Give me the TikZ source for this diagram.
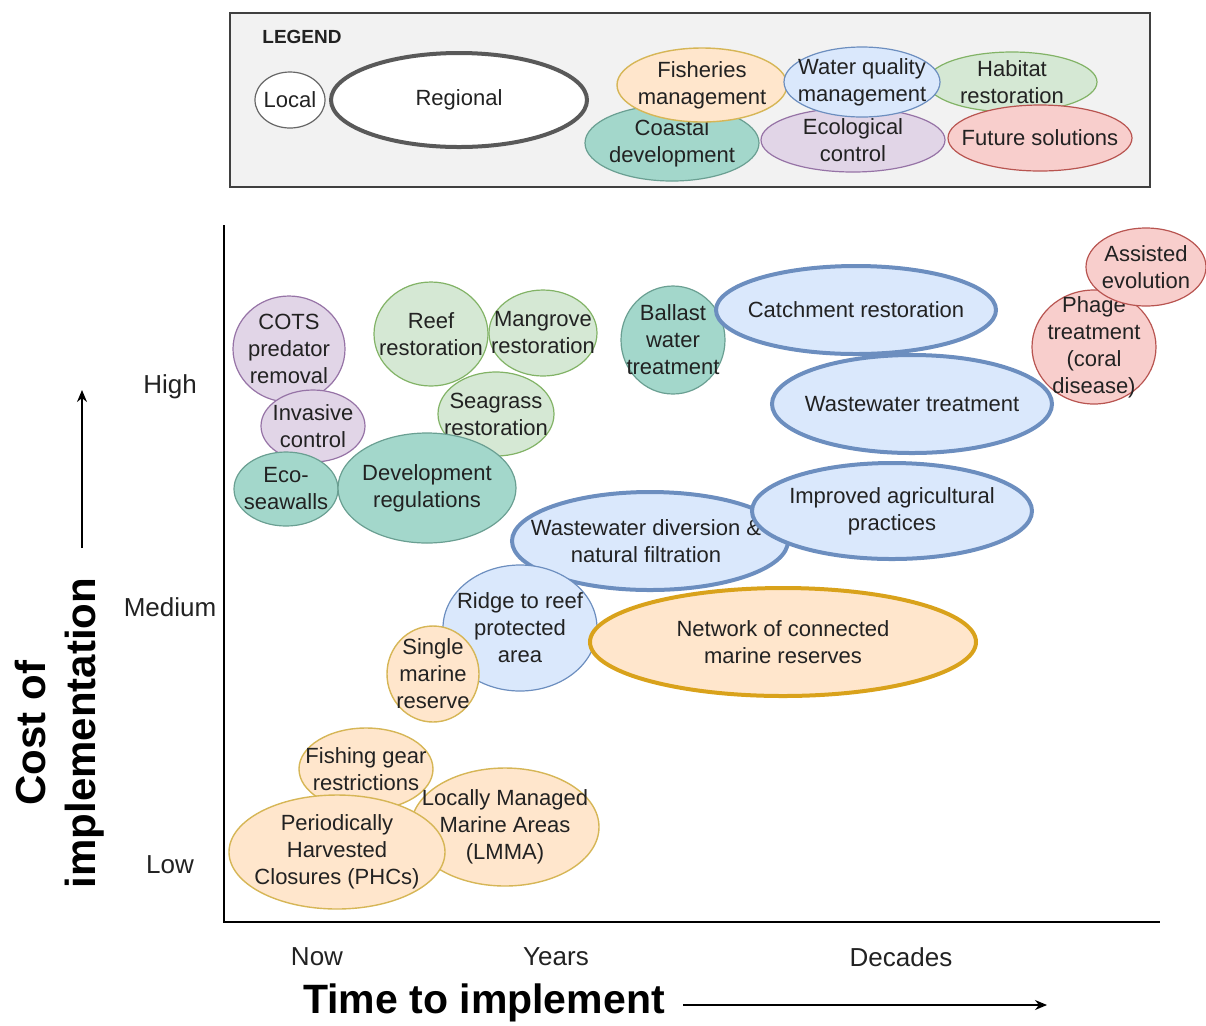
\documentclass[tikz,border=0pt]{standalone}
\usepackage{fontspec}
\setmainfont{Liberation Sans}
\usepackage{xcolor}
\usepackage{tikz}
\usetikzlibrary{arrows.meta}
\definecolor{orgf}{HTML}{FFE6CC}
\definecolor{orgd}{HTML}{D6B656}
\definecolor{orgk}{HTML}{D9A21B}
\definecolor{bluf}{HTML}{DAE8FC}
\definecolor{blud}{HTML}{6C8EBF}
\definecolor{grnf}{HTML}{D5E8D4}
\definecolor{grnd}{HTML}{82B366}
\definecolor{prpf}{HTML}{E1D5E7}
\definecolor{prpd}{HTML}{9673A6}
\definecolor{pnkf}{HTML}{F8CECC}
\definecolor{pnkd}{HTML}{B85450}
\definecolor{tealf}{HTML}{A3D7CB}
\definecolor{teald}{HTML}{6A9F92}
\definecolor{txt}{HTML}{222222}
\newcommand\bub[7]{%
  \draw[#1] (#3,#4) ellipse [x radius=#5, y radius=#6];
  \node[lbl] (#2) at (#3,#4) {#7};}

\begin{document}
\begin{tikzpicture}[x=0.5pt, y=-0.5pt, >={Stealth[length=6pt,width=5pt]},
    lbl/.style={align=center, text=txt, inner sep=0pt,
      font=\fontsize{11}{13.5}\selectfont},
    tick/.style={text=txt, font=\fontsize{13}{15}\selectfont},
    org/.style={fill=orgf, draw=orgd, line width=0.7pt},
    orgT/.style={fill=orgf, draw=orgk, line width=2pt},
    blue/.style={fill=bluf, draw=blud, line width=0.6pt},
    blueT/.style={fill=bluf, draw=blud, line width=2pt},
    green/.style={fill=grnf, draw=grnd, line width=0.6pt},
    purp/.style={fill=prpf, draw=prpd, line width=0.6pt},
    pink/.style={fill=pnkf, draw=pnkd, line width=0.6pt},
    teal/.style={fill=tealf, draw=teald, line width=0.6pt},
    loc/.style={fill=white, draw=black!60, line width=0.6pt},
    reg/.style={fill=white, draw=black!65, line width=2pt}]
    \useasboundingbox (0,0) rectangle (1206,1025);

    % legend
    \draw[fill=black!5, draw=black!75, line width=0.7pt] (230,13) rectangle (1150,187);
    \node[text=txt, font=\bfseries\fontsize{9.5}{11}\selectfont] (Legend) at (302,37) {LEGEND};
    \bub{loc}{Local}{290}{100}{35}{28}{Local}
    \bub{reg}{Regional}{459}{100}{128}{47}{Regional}
    \bub{teal}{LegCoast}{672}{143}{87}{38}{Coastal\\development}
    \bub{purp}{LegEco}{853}{140}{92}{32}{Ecological\\control}
    \bub{green}{LegHab}{1012}{82}{85}{30}{Habitat\\restoration}
    \bub{pink}{LegFut}{1040}{138}{92}{33}{Future solutions}
    \bub{org}{LegFish}{702}{85}{85}{37}{Fisheries\\management}
    \bub{blue}{LegWater}{862}{82}{78}{35}{Water quality\\management}

    % axes
    \coordinate (Top) at (224,225);
    \coordinate (Orig) at (224,922);
    \coordinate (Right) at (1160,922);
    \draw[line width=0.8pt] (Top) -- (Orig) -- (Right);

    \node[tick] (High) at (170,387) {High};
    \node[tick] (Medium) at (170,607) {Medium};
    \node[tick] (Low) at (170,865) {Low};
    \node[tick] (Now) at (317,957) {Now};
    \node[tick] (Years) at (556,957) {Years};
    \node[tick] (Decades) at (901,957) {Decades};

    \coordinate (Ybot) at (82,548);
    \coordinate (Ytop) at (82,390);
    \draw[->, line width=0.7pt] (Ybot) -- (Ytop);
    \node[rotate=90, align=center, font=\bfseries\fontsize{21}{25}\selectfont] (Cost) at (60,733) {Cost of\\implementation};

    \coordinate (Xl) at (683,1005);
    \coordinate (Xr) at (1047,1005);
    \draw[->, line width=0.7pt] (Xl) -- (Xr);
    \node[font=\bfseries\fontsize{20.5}{24}\selectfont] (Time) at (484,1003) {Time to implement};

    % high cost
    \bub{purp}{Cots}{289}{349}{56}{53}{COTS\\predator\\removal}
    \bub{purp}{Inv}{313}{426}{52}{36}{Invasive\\control}
    \bub{teal}{Eco}{286}{489}{52}{37}{Eco-\\seawalls}
    \bub{green}{Reef}{431}{334}{57}{52}{Reef\\restoration}
    \bub{green}{Mang}{543}{333}{54}{43}{Mangrove\\restoration}
    \bub{green}{Sea}{496}{414}{58}{42}{Seagrass\\restoration}
    \bub{teal}{Dev}{427}{488}{89}{55}{Development\\regulations}
    \bub{teal}{Ball}{673}{340}{52}{54}{Ballast\\water\\treatment}
    \bub{blueT}{Catch}{856}{310}{140}{44}{Catchment restoration}
    \bub{blueT}{WTreat}{912}{404}{140}{49}{Wastewater treatment}
    \bub{pink}{Phage}{1094}{347}{62}{57}{Phage\\treatment\\(coral\\disease)}
    \bub{pink}{Assist}{1146}{267}{60}{39}{Assisted\\evolution}

    % medium cost
    \draw[blueT] (650,541) ellipse [x radius=138, y radius=49];
    \node[lbl] (Divert) at (646,541) {Wastewater diversion \&\\natural filtration};
    \bub{blueT}{Agri}{892}{511}{140}{48}{Improved agricultural\\practices}
    \bub{blue}{Ridge}{520}{628}{77}{63}{Ridge to reef\\protected\\area}
    \bub{org}{Single}{433}{674}{46}{48}{Single\\marine\\reserve}
    \bub{orgT}{Network}{783}{642}{193}{54}{Network of connected\\marine reserves}

    % low cost
    \bub{org}{Gear}{366}{769}{67}{41}{Fishing gear\\restrictions}
    \bub{org}{Lmma}{505}{827}{94}{59}{Locally Managed\\Marine Areas\\(LMMA)}
    \bub{org}{Phc}{337}{852}{108}{57}{Periodically\\Harvested\\Closures (PHCs)}
\end{tikzpicture}
\end{document}
